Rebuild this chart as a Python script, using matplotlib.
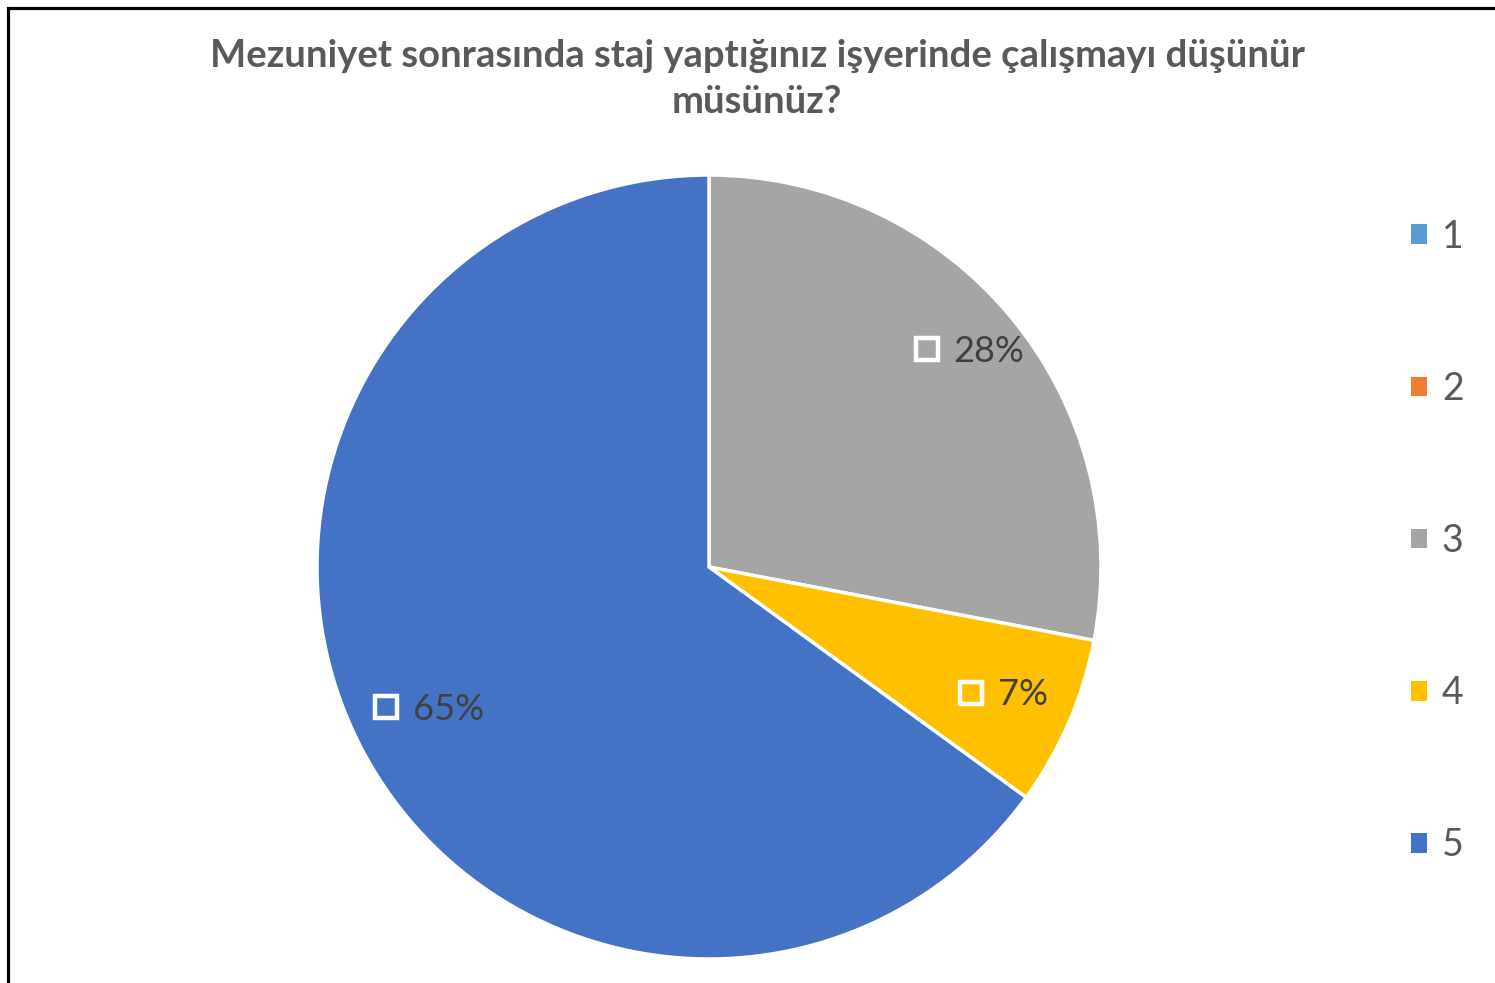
import matplotlib
matplotlib.use('Agg')
import matplotlib.pyplot as plt
from matplotlib.patches import Patch, Rectangle
import numpy as np

plt.rcParams['font.family'] = ['Lato', 'DejaVu Sans']

title = 'Mezuniyet sonrasında staj yaptığınız işyerinde çalışmayı düşünür\nmüsünüz?'
categories = ['1', '2', '3', '4', '5']
shares = [0, 0, 28, 7, 65]
colors = ['#5B9BD5', '#ED7D31', '#A5A5A5', '#FFC000', '#4472C4']

W, H = 1495, 983
fig = plt.figure(figsize=(W / 100, H / 100), dpi=100)

# pie centre and radius in pixels
cx, cy, R = 709, 567, 392
ax = fig.add_axes([(cx - R) / W, (H - cy - R) / H, 2 * R / W, 2 * R / H])
wedges, _ = ax.pie(shares, colors=colors, startangle=90, counterclock=False,
                   wedgeprops=dict(edgecolor='white', linewidth=2.5))
ax.set_xlim(-1, 1)
ax.set_ylim(-1, 1)
ax.set_aspect('equal')

# data labels: white hollow square + percent text
label_r = {2: 0.864, 3: 0.82, 4: 0.80}
fig.canvas.draw()
renderer = fig.canvas.get_renderer()
for i, w in enumerate(wedges):
    if shares[i] == 0:
        continue
    mid = np.deg2rad((w.theta1 + w.theta2) / 2)
    r = label_r[i]
    x, y = r * np.cos(mid), r * np.sin(mid)
    t = ax.text(0, 0, f'{shares[i]}%', fontsize=26, color='#404040',
                ha='left', va='center')
    tw = t.get_window_extent(renderer).width / R  # data units
    gap = 38 / R
    total = gap + tw
    left = x - total / 2
    t.set_position((left + gap, y))
    ax.plot([left + 11 / R], [y + 2 / R], marker='s', ms=15.5, mfc='none',
            mec='white', mew=3.2)

fig.text(757 / W, 1 - 79 / H, title, ha='center', va='center', fontsize=27.5,
         fontweight='bold', color='#595959', linespacing=1.42)

handles = [Patch(facecolor=c, edgecolor='none') for c in colors]
fig.legend(handles, categories, loc='center left',
           bbox_to_anchor=(1411 / W, 1 - 541 / H), frameon=False,
           borderpad=0, borderaxespad=0,
           fontsize=27, labelcolor='#595959', handlelength=0.42,
           handleheight=0.42, handletextpad=0.4, labelspacing=3.1)

# chart border (only the left and top edges are inside the image)
fig.patches.append(Rectangle((8 / W, -0.1), 1.2, 1.1 - 8 / H,
                             transform=fig.transFigure, fill=False,
                             edgecolor='black', linewidth=2.3))

fig.savefig('out.png', dpi=100)
